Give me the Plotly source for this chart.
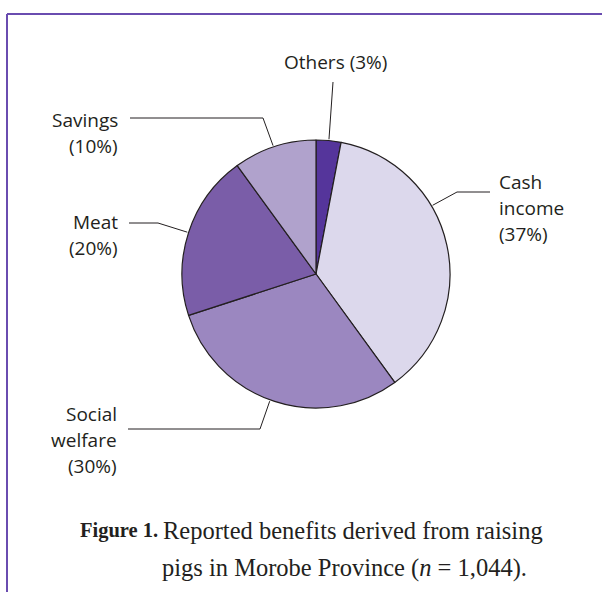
import math
import plotly.graph_objects as go

# ---- data ----
categories = ["Others", "Cash income", "Social welfare", "Meat", "Savings"]
values = [3, 37, 30, 20, 10]
label_lines = [["Others (3%)"], ["Cash", "income", "(37%)"], ["Social", "welfare", "(30%)"],
               ["Meat", "(20%)"], ["Savings", "(10%)"]]
colors = ["#55359b", "#dcd8ec", "#9b87c0", "#7a5da8", "#b0a2cc"]

W, H = 602, 592
# pie geometry (pixels)
cx, cy, r = 316, 274, 134

# leader line layout: angle on pie (deg clockwise from top), elbow pixel, end pixel,
# first label line position & anchor
leader = {
    "Others": dict(ang=5.5, elbow=None, end=(333, 82), lab=(335, 62), xa="center"),
    "Cash income": dict(ang=59.5, elbow=(457, 192), end=(490, 192), lab=(497, 182), xa="left"),
    "Social welfare": dict(ang=200, elbow=(260, 429), end=(128, 429), lab=(119, 414), xa="right"),
    "Meat": dict(ang=288, elbow=(158, 223), end=(129, 223), lab=(120, 222), xa="right"),
    "Savings": dict(ang=341.5, elbow=(263, 118), end=(130, 118), lab=(120, 120), xa="right"),
}
LINE_GAP = 26

def px(x):
    return x / W

def py(y):
    return 1 - y / H

fig = go.Figure(go.Pie(
    labels=categories, values=values, sort=False, direction="clockwise", rotation=0,
    marker=dict(colors=colors, line=dict(color="#231f20", width=1.2)),
    textinfo="none", hoverinfo="label+percent", showlegend=False,
    domain=dict(x=[px(cx - r), px(cx + r)], y=[py(cy + r), py(cy - r)]),
))

shapes = []
annotations = []
for cat, lines in zip(categories, label_lines):
    L = leader[cat]
    a = math.radians(L["ang"])
    sx = cx + r * 1.01 * math.sin(a)
    sy = cy - r * 1.01 * math.cos(a)
    pts = [(sx, sy)]
    if L["elbow"]:
        pts.append(L["elbow"])
    pts.append(L["end"])
    for (x0, y0), (x1, y1) in zip(pts[:-1], pts[1:]):
        shapes.append(dict(type="line", xref="paper", yref="paper",
                           x0=px(x0), y0=py(y0), x1=px(x1), y1=py(y1),
                           line=dict(color="#231f20", width=1)))
    lx, ly = L["lab"]
    for i, t in enumerate(lines):
        annotations.append(dict(x=px(lx), y=py(ly + i * LINE_GAP), xref="paper", yref="paper",
                                text=t, showarrow=False, xanchor=L["xa"], yanchor="middle",
                                font=dict(family="Open Sans", size=19, color="#231f20")))

# frame
shapes.append(dict(type="line", xref="paper", yref="paper", x0=px(7), y0=py(14), x1=1.01, y1=py(14),
                   line=dict(color="#6a4cb0", width=2)))
shapes.append(dict(type="line", xref="paper", yref="paper", x0=px(7), y0=py(14), x1=px(7), y1=-0.01,
                   line=dict(color="#6a4cb0", width=2)))

# caption
cap_font = dict(family="Liberation Serif", size=24.5, color="#231f20")
annotations.append(dict(x=px(78), y=py(530), xref="paper", yref="paper", text="<b>Figure 1.</b>",
                        showarrow=False, xanchor="left", yanchor="middle",
                        font=dict(family="Liberation Serif", size=20.5, color="#231f20")))
annotations.append(dict(x=px(161), y=py(530), xref="paper", yref="paper",
                        text="Reported benefits derived from raising",
                        showarrow=False, xanchor="left", yanchor="middle", font=cap_font))
annotations.append(dict(x=px(160), y=py(568), xref="paper", yref="paper",
                        text="pigs in Morobe Province (<i>n</i> = 1,044).",
                        showarrow=False, xanchor="left", yanchor="middle", font=cap_font))

fig.update_layout(width=W, height=H, margin=dict(l=0, r=0, t=0, b=0),
                  paper_bgcolor="white", plot_bgcolor="white",
                  shapes=shapes, annotations=annotations)
fig.write_html("out.html")
